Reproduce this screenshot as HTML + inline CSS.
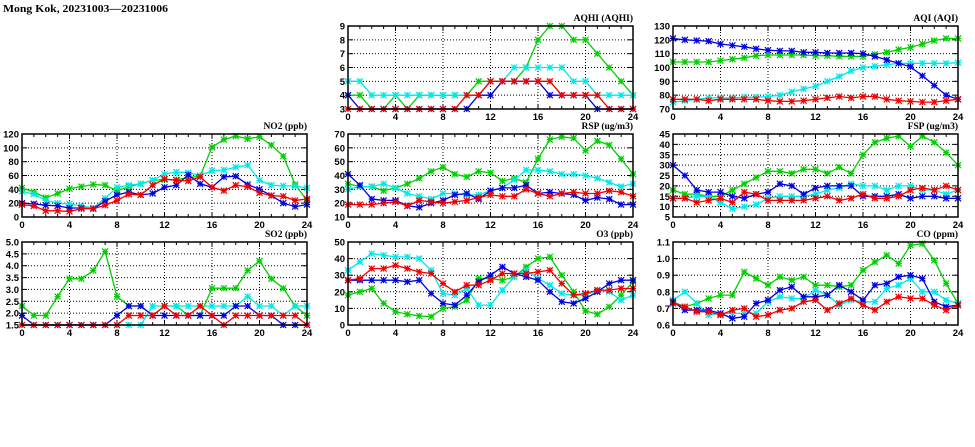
<!DOCTYPE html>
<html><head><meta charset="utf-8"><style>
body{margin:0;background:#fff;}
svg{display:block;font-family:"Liberation Sans",sans-serif;}
</style></head><body>
<svg id="chart" width="975" height="447" viewBox="0 0 975 447" xmlns="http://www.w3.org/2000/svg">
<text x="3" y="12" font-size="11" font-weight="bold" font-family="Liberation Serif, serif" textLength="165" lengthAdjust="spacingAndGlyphs">Mong Kok, 20231003—20231006</text>
</svg>
<script>
const hours = [0,1,2,3,4,5,6,7,8,9,10,11,12,13,14,15,16,17,18,19,20,21,22,23,24];
const xTickLabels = ["0","4","8","12","16","20","24"];
const seriesColors = ["#00d000","#00e8e8","#0000e0","#f00000"];

const aqhiTicks = [3,4,5,6,7,8,9];
const aqhiGreen = [4,4,3,3,4,3,4,4,4,4,4,5,5,5,5,6,8,9,9,8,8,7,6,5,4];
const aqhiCyan  = [5,5,4,4,4,4,4,4,4,4,4,4,5,5,6,6,6,6,6,5,5,4,4,4,4];
const aqhiBlue  = [4,3,3,3,3,3,3,3,3,3,3,4,4,5,5,5,5,4,4,4,4,3,3,3,3];
const aqhiRed   = [3,3,3,3,3,3,3,3,3,3,4,4,5,5,5,5,5,5,4,4,4,4,3,3,3];

const aqiTicks = [70,80,90,100,110,120,130];
const aqiGreen = [104,104,104,104,105,106,107,108.5,109,109,109,109,108.5,108.5,108,108,108,109.5,111,113,114.5,117,119.5,121,121];
const aqiCyan  = [75,76,77,78,78,78,78.5,78.5,79,80,82.5,84.5,86.5,90,93.5,97.5,100,101,102,103,103,103,103,103,103.5];
const aqiBlue  = [121,120,119.5,119,117,116,115,113.5,112.5,112,112,111,111,110.5,110.5,110.5,110,108,105.5,103,100.5,94,87,80,77];
const aqiRed   = [77,77,77,76,77,77,77,77,76,75.5,75.5,76,77,78,79,78,79,79,77,76,75.5,75,75,76,77];

const no2Ticks = [0,20,40,60,80,100,120];
const no2Green = [42,36,28,34,41,44,47,46,38,44,48,53,54,54,57,59,101,112,117,113,116,104,88,47,24];
const no2Cyan  = [37,33,24,20,19,16,13,27,43,46,48,53,62,65,64,60,67,68,72,75,53,46,45,45,42];
const no2Blue  = [20,19,17,16,13,13,12,23,32,36,32,34,43,46,61,48,43,58,59,47,40,31,20,15,18];
const no2Red   = [18,16,9,9,8,12,12,17,24,33,32,46,55,53,52,58,43,38,46,44,35,31,30,24,26];

const rspTicks = [10,20,30,40,50,60,70];
const rspGreen = [34,32,32,29,31,34,38,43,46,41,39,43,42,36,38,35,52,66,68,67,58,65,62,52,41];
const rspCyan  = [30,32,32,34,31,27,25,23,27,27,26,26,29,31,37,44,44,43,41,41,40,38,35,32,34];
const rspBlue  = [41,33,23,22,22,18,17,20,22,26,27,23,29,31,31,33,27,28,27,26,22,24,23,19,19];
const rspRed   = [19,19,19,20,21,18,22,21,20,21,22,24,26,25,25,30,27,25,27,28,27,27,29,28,25];

const fspTicks = [5,10,15,20,25,30,35,40,45];
const fspGreen = [18,16,16,15,15,18,21,24,27,27,26,28,28,26,29,26,35,41,43,44,39,44,41,36,30];
const fspCyan  = [14,14,15,15,12,9,10,11,14,15,15,15,16,18,19,21,20,20,18,20,20,18,18,16,18];
const fspBlue  = [30,25,18,17,17,15,14,16,17,21,20,16,19,20,20,20,15,15,15,16,14,15,15,14,14];
const fspRed   = [14,14,12,13,14,12,17,16,13,13,13,13,14,15,13,14,16,14,14,15,18,19,18,20,18];

const so2Ticks = [1.5,2.0,2.5,3.0,3.5,4.0,4.5,5.0];
const so2Green = [2.3,1.9,1.9,2.7,3.45,3.45,3.8,4.6,2.7,2.3,2.3,1.9,2.3,2.3,1.9,1.9,3.05,3.05,3.05,3.8,4.2,3.45,3.05,2.3,1.9];
const so2Cyan  = [1.5,1.5,1.5,1.5,1.5,1.5,1.5,1.5,1.5,1.5,1.5,2.3,2.3,2.3,2.3,2.3,2.3,2.3,2.3,2.7,2.3,2.3,1.9,2.3,2.3];
const so2Blue  = [1.9,1.5,1.5,1.5,1.5,1.5,1.5,1.5,1.9,2.3,2.3,1.9,1.9,1.9,1.9,1.9,1.9,1.9,2.3,2.3,1.9,1.9,1.5,1.5,1.5];
const so2Red   = [1.5,1.5,1.5,1.5,1.5,1.5,1.5,1.5,1.5,1.9,1.9,1.9,2.3,1.9,1.9,2.3,1.9,1.5,1.9,1.9,1.9,1.9,1.9,1.9,1.5];

const o3Ticks = [0,10,20,30,40,50];
const o3Green = [18,20,22,13,8,6.5,5.5,5,10,11,15,28,28,27,29,35,40,41,30,20,8.5,6.5,11,18,26];
const o3Cyan  = [33,38,43,42,41,41,40,33,19,18,22,12,12,21,29,33,28,24,19,18,18,21,20,15,18];
const o3Blue  = [27,27,27,27,27,26,27,19,13,12,18,26,30,35,31,29,27,20,14,13,16,20,25,27,27];
const o3Red   = [27,28,34,34,36,34,32,31,25,20,24,24,27,31,31,31,32,33,25,18,19,21,21,22,22];

const coTicks = [0.6,0.7,0.8,0.9,1.0,1.1];
const coGreen = [0.74,0.71,0.73,0.76,0.78,0.78,0.92,0.88,0.84,0.89,0.87,0.89,0.84,0.84,0.83,0.84,0.93,0.98,1.02,0.97,1.08,1.09,0.99,0.85,0.73];
const coCyan  = [0.75,0.80,0.73,0.66,0.67,0.67,0.67,0.67,0.74,0.77,0.76,0.76,0.81,0.78,0.72,0.75,0.74,0.74,0.82,0.84,0.88,0.80,0.80,0.75,0.73];
const coBlue  = [0.74,0.69,0.69,0.69,0.67,0.64,0.65,0.73,0.75,0.81,0.83,0.77,0.77,0.78,0.84,0.80,0.75,0.84,0.85,0.89,0.90,0.88,0.74,0.71,0.72];
const coRed   = [0.73,0.71,0.68,0.68,0.66,0.69,0.70,0.65,0.66,0.69,0.70,0.74,0.75,0.69,0.73,0.76,0.72,0.69,0.74,0.77,0.76,0.76,0.72,0.69,0.72];

const svg = document.getElementById('chart');
const NS = 'http://www.w3.org/2000/svg';
function mk(tag, attrs, parent){
  const e = document.createElementNS(NS, tag);
  for (const k in attrs) e.setAttribute(k, attrs[k]);
  (parent||svg).appendChild(e);
  return e;
}
function fmt(v, dec){ return v.toFixed(dec); }

function panel(key, title, left, top, ticks, dec, series){
  const W = 285, H = 83;
  const ymin = ticks[0], ymax = ticks[ticks.length-1];
  const xs = h => left + h / 24 * W;
  const ys = v => top + H - (v - ymin) / (ymax - ymin) * H;
  const g = mk('g', {});
  
  
  for (let i = 1; i < xTickLabels.length - 1; i++) {
    const x = xs(+xTickLabels[i]);
    const l = mk('line', {x1:x, x2:x, y1:top, y2:top+H, stroke:'#000', 'stroke-width':1, 'stroke-dasharray':'1,2'}, g);
    
    
  }
  for (let i = 1; i < ticks.length - 1; i++) {
    const y = ys(ticks[i]);
    const l = mk('line', {x1:left, x2:left+W, y1:y, y2:y, stroke:'#000', 'stroke-width':1, 'stroke-dasharray':'1,2'}, g);
    
    
  }
  hours.forEach(h => {
    const x = xs(h), len = (h % 4 === 0) ? 5 : 3;
    mk('line', {x1:x, x2:x, y1:top+H, y2:top+H-len, stroke:'#000', 'stroke-width':1}, g);
    mk('line', {x1:x, x2:x, y1:top, y2:top+len, stroke:'#000', 'stroke-width':1}, g);
  });
  ticks.forEach(t => {
    const y = ys(t);
    mk('line', {x1:left, x2:left+5, y1:y, y2:y, stroke:'#000', 'stroke-width':1}, g);
    mk('line', {x1:left+W, x2:left+W-5, y1:y, y2:y, stroke:'#000', 'stroke-width':1}, g);
    const tl = mk('text', {x:left-3, y:y+3.5, 'font-size':9.5, 'font-weight':'bold', 'text-anchor':'end'}, g);
    
    
    tl.textContent = fmt(t, dec);
  });
  xTickLabels.forEach(s => {
    const tl = mk('text', {x:xs(+s), y:top+H+11, 'font-size':9.5, 'font-weight':'bold', 'text-anchor':'middle'}, g);
    
    
    tl.textContent = s;
  });
  series.forEach((vals, si) => {
    const col = seriesColors[si];
    const sg = mk('g', {}, g);
    
    
    const pts = vals.map((v, i) => xs(hours[i]).toFixed(1) + ',' + ys(v).toFixed(1)).join(' ');
    const pl = mk('polyline', {points:pts, fill:'none', stroke:col, 'stroke-width':1.3}, sg);
    
    
    vals.forEach((v, i) => {
      const x = xs(hours[i]), y = ys(v), r = 3;
      const p = mk('path', {d:`M${x-r},${y-r}L${x+r},${y+r}M${x-r},${y+r}L${x+r},${y-r}M${x},${y-r}L${x},${y+r}M${x-r},${y}L${x+r},${y}`, stroke:col, 'stroke-width':1.2, fill:'none'}, sg);
      
      
    });
  });
  const fr = mk('rect', {x:left, y:top, width:W, height:H, fill:'none', stroke:'#000', 'stroke-width':1.5}, g);
  
  
  const tt = mk('text', {x:left+W, y:top-5, 'font-size':9.5, 'font-weight':'bold', 'text-anchor':'end', 'font-family':'Liberation Serif, serif'}, g);
  
  
  tt.textContent = title;
}

const colX = [22, 348, 673], rowY = [26, 134, 242];
panel('aqhi', 'AQHI (AQHI)', colX[1], rowY[0], aqhiTicks, 0, [aqhiGreen, aqhiCyan, aqhiBlue, aqhiRed]);
panel('aqi', 'AQI (AQI)', colX[2], rowY[0], aqiTicks, 0, [aqiGreen, aqiCyan, aqiBlue, aqiRed]);
panel('no2', 'NO2 (ppb)', colX[0], rowY[1], no2Ticks, 0, [no2Green, no2Cyan, no2Blue, no2Red]);
panel('rsp', 'RSP (ug/m3)', colX[1], rowY[1], rspTicks, 0, [rspGreen, rspCyan, rspBlue, rspRed]);
panel('fsp', 'FSP (ug/m3)', colX[2], rowY[1], fspTicks, 0, [fspGreen, fspCyan, fspBlue, fspRed]);
panel('so2', 'SO2 (ppb)', colX[0], rowY[2], so2Ticks, 1, [so2Green, so2Cyan, so2Blue, so2Red]);
panel('o3', 'O3 (ppb)', colX[1], rowY[2], o3Ticks, 0, [o3Green, o3Cyan, o3Blue, o3Red]);
panel('co', 'CO (ppm)', colX[2], rowY[2], coTicks, 1, [coGreen, coCyan, coBlue, coRed]);
</script>
</body></html>
